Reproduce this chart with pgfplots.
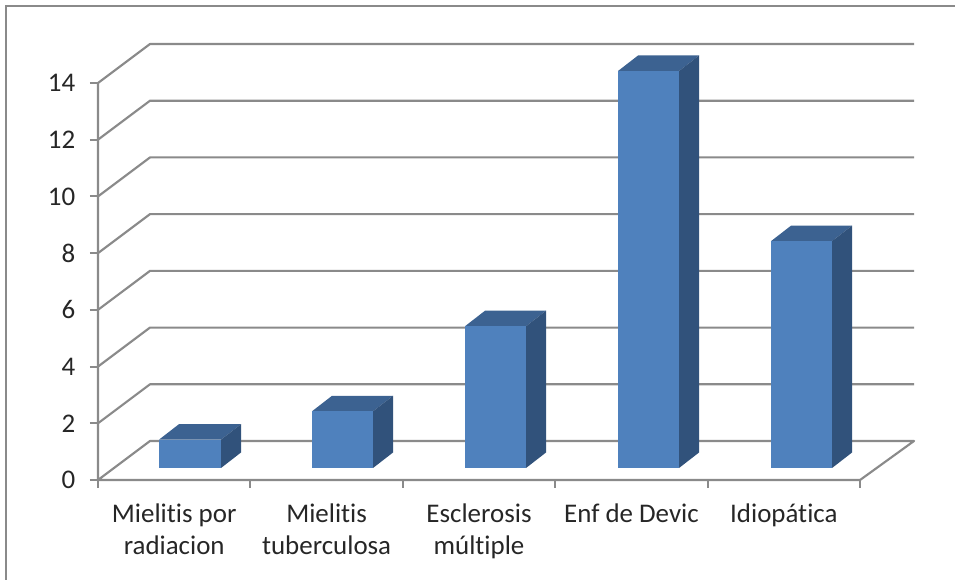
\documentclass[border=0pt]{standalone}
\usepackage{fontspec}
\setmainfont{Carlito}[Ligatures=NoCommon]
\usepackage{pgfplots}
\pgfplotsset{compat=1.18}
\definecolor{gridc}{HTML}{8A8A8A}
\definecolor{frontc}{HTML}{4F81BD}
\definecolor{topc}{HTML}{3C6291}
\definecolor{sidec}{HTML}{31527B}
\definecolor{textc}{HTML}{262626}
\pgfplotsset{
  wall/.style={draw=gridc,line width=1.6pt,line join=round,no marks,forget plot},
  front/.style={fill=frontc,draw=none,no marks,forget plot,xshift=12pt,yshift=9pt},
  top/.style={fill=topc,draw=none,no marks,forget plot,xshift=12pt,yshift=9pt},
  side/.style={fill=sidec,draw=none,no marks,forget plot,xshift=12pt,yshift=9pt},
}
\begin{document}
\begin{tikzpicture}
% page frame: the chart area is open on the right and at the bottom
\path[use as bounding box] (-73.5pt,-75pt) rectangle (642.75pt,360pt);
\draw[draw=gridc,line width=2pt] (-69pt,-75pt) -- (-69pt,355.5pt) -- (642.75pt,355.5pt);
\begin{axis}[
  scale only axis,
  width=612pt,height=327pt,
  xmin=0,xmax=5.354,ymin=0,ymax=15.375,
  clip=false,
  axis line style={draw=none},
  xtick pos=bottom,ytick pos=left,
  tick align=outside,
  xtick={0.5,1.5,2.5,3.5,4.5},
  xticklabels={{Mielitis por\\radiacion},{Mielitis\\tuberculosa},{Esclerosis\\múltiple},{Enf de Devic},{Idiopática}},
  ytick={0,2,4,6,8,10,12,14},
  minor xtick={0,1,2,3,4,5},
  minor ytick={0,2,4,6,8,10,12,14},
  major tick length=0pt,
  minor tick length=6pt,
  minor tick style={draw=gridc,line width=1.5pt},
  /pgf/number format/assume math mode=true,
  tick label style={font=\fontsize{20.2}{23.6}\selectfont,text=textc},
  xticklabel style={align=center,anchor=north,yshift=-14.5pt},
  yticklabel style={anchor=east,xshift=-13.5pt},
]
% side wall and back wall rules
\addplot[wall] coordinates {(0,2) (0.3412,3.375) (5.354,3.375)};
\addplot[wall] coordinates {(0,4) (0.3412,5.375) (5.354,5.375)};
\addplot[wall] coordinates {(0,6) (0.3412,7.375) (5.354,7.375)};
\addplot[wall] coordinates {(0,8) (0.3412,9.375) (5.354,9.375)};
\addplot[wall] coordinates {(0,10) (0.3412,11.375) (5.354,11.375)};
\addplot[wall] coordinates {(0,12) (0.3412,13.375) (5.354,13.375)};
\addplot[wall] coordinates {(0,14) (0.3412,15.375) (5.354,15.375)};
% floor and value axis
\addplot[wall] coordinates {(0,14) (0,0) (5,0) (5.354,1.375) (0.3412,1.375) (0,0)};
% Mielitis por radiacion = 1
\addplot[top]   coordinates {(0.2953,1) (0.7021,1) (0.8333,1.5466) (0.4265,1.5466)} -- cycle;
\addplot[side]  coordinates {(0.7021,0) (0.8333,0.5466) (0.8333,1.5466) (0.7021,1)} -- cycle;
\addplot[front] coordinates {(0.2953,0) (0.7021,0) (0.7021,1) (0.2953,1)} -- cycle;
% Mielitis tuberculosa = 2
\addplot[top]   coordinates {(1.2992,2) (1.6995,2) (1.8307,2.5466) (1.4304,2.5466)} -- cycle;
\addplot[side]  coordinates {(1.6995,0) (1.8307,0.5466) (1.8307,2.5466) (1.6995,2)} -- cycle;
\addplot[front] coordinates {(1.2992,0) (1.6995,0) (1.6995,2) (1.2992,2)} -- cycle;
% Esclerosis multiple = 5
\addplot[top]   coordinates {(2.3031,5) (2.7034,5) (2.8346,5.5466) (2.4344,5.5466)} -- cycle;
\addplot[side]  coordinates {(2.7034,0) (2.8346,0.5466) (2.8346,5.5466) (2.7034,5)} -- cycle;
\addplot[front] coordinates {(2.3031,0) (2.7034,0) (2.7034,5) (2.3031,5)} -- cycle;
% Enf de Devic = 14
\addplot[top]   coordinates {(3.3071,14) (3.7073,14) (3.8386,14.5466) (3.4383,14.5466)} -- cycle;
\addplot[side]  coordinates {(3.7073,0) (3.8386,0.5466) (3.8386,14.5466) (3.7073,14)} -- cycle;
\addplot[front] coordinates {(3.3071,0) (3.7073,0) (3.7073,14) (3.3071,14)} -- cycle;
% Idiopatica = 8
\addplot[top]   coordinates {(4.3110,8) (4.7113,8) (4.8425,8.5466) (4.4423,8.5466)} -- cycle;
\addplot[side]  coordinates {(4.7113,0) (4.8425,0.5466) (4.8425,8.5466) (4.7113,8)} -- cycle;
\addplot[front] coordinates {(4.3110,0) (4.7113,0) (4.7113,8) (4.3110,8)} -- cycle;
\end{axis}
\end{tikzpicture}
\end{document}
